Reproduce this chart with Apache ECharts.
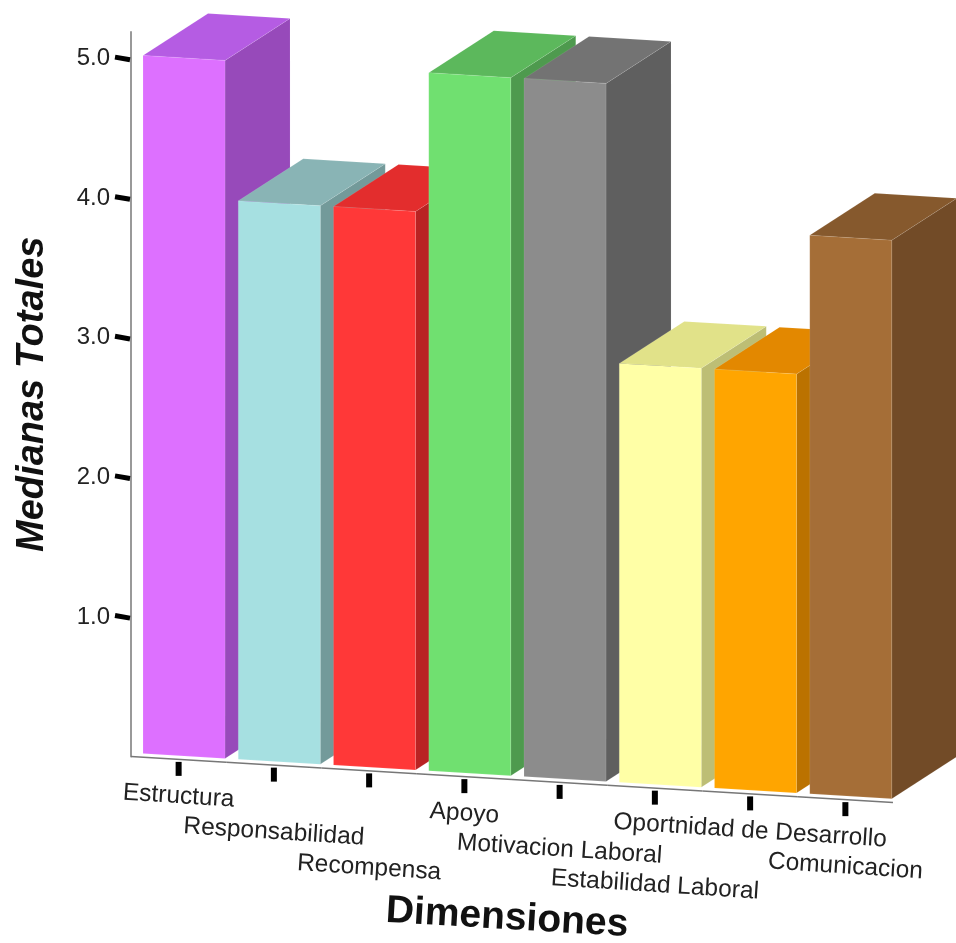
<!DOCTYPE html>
<html>
<head>
<meta charset="utf-8">
<style>
  html, body { margin: 0; padding: 0; background: #fff; }
  #chart { width: 956px; height: 943px; }
</style>
<script src="https://cdn.jsdelivr.net/npm/echarts@6/dist/echarts.min.js"></script>
</head>
<body>
<div id="chart"></div>
<script>
const categories = ['Estructura', 'Responsabilidad', 'Recompensa', 'Apoyo', 'Motivacion Laboral', 'Estabilidad Laboral', 'Oportnidad de Desarrollo', 'Comunicacion'];
const medians = [5, 4, 4, 5, 5, 3, 3, 4];
const yTickValues = [1, 2, 3, 4, 5];

const frontColors = ['#DD70FF', '#A6E0E1', '#FF3838', '#70E070', '#8C8C8C', '#FFFFA6', '#FFA500', '#A56E37'];
const topColors = ['#B55CE3', '#89B4B5', '#E32D2D', '#5CB85C', '#737373', '#E1E289', '#E38800', '#86592D'];
const sideColors = ['#974ABA', '#739A9A', '#B92323', '#4E9A4E', '#5F5F5F', '#BDBE75', '#BB7200', '#724B27'];

const fontFamily = '"Liberation Sans", Arial, sans-serif';
const shearSlope = 0.0604;   // the floor of the fake 3D box runs downhill to the right
const gridLeft = 131;
const depthX = 65;
const depthY = -42;
const labelAngle = -0.065;

function floorDrop(x) {
  return (x - gridLeft) * shearSlope;
}

function renderBar(params, api) {
  const index = api.value(0);
  const top = api.coord([index, api.value(1)]);
  const bottom = api.coord([index, 0]);
  const x0 = top[0] - 35.6;
  const x1 = top[0] + 46.4;
  const gap = -3.8;

  const tl = [x0, top[1] + floorDrop(x0) + gap];
  const tr = [x1, top[1] + floorDrop(x1) + gap];
  const bl = [x0, bottom[1] + floorDrop(x0) + gap];
  const br = [x1, bottom[1] + floorDrop(x1) + gap];
  const back = (p) => [p[0] + depthX, p[1] + depthY];
  const edge = { stroke: 'rgba(255,255,255,0.15)', lineWidth: 0.6 };

  return {
    type: 'group',
    children: [
      {
        type: 'polygon',
        shape: { points: [tr, back(tr), back(br), br] },
        style: Object.assign({ fill: sideColors[index] }, edge)
      },
      {
        type: 'polygon',
        shape: { points: [tl, back(tl), back(tr), tr] },
        style: Object.assign({ fill: topColors[index] }, edge)
      },
      {
        type: 'polygon',
        shape: { points: [tl, tr, br, bl] },
        style: Object.assign({ fill: frontColors[index] }, edge)
      }
    ]
  };
}

// floor line, tick and staggered label for one category
function renderCategory(params, api) {
  const index = api.value(0);
  const point = api.coord([index, 0]);
  const slot = api.size([1, 0])[0];
  const x = point[0];
  const y = point[1] + floorDrop(x);
  const left = x - slot / 2;
  const right = x + slot / 2;
  const labelDrop = 37 + (index % 3) * 30;

  return {
    type: 'group',
    children: [
      {
        type: 'line',
        shape: {
          x1: left,
          y1: point[1] + floorDrop(left),
          x2: right,
          y2: point[1] + floorDrop(right)
        },
        style: { stroke: '#777', lineWidth: 1.5 }
      },
      {
        type: 'rect',
        shape: { x: x - 3, y: y + 2.5, width: 6, height: 14 },
        style: { fill: '#000' }
      },
      {
        type: 'text',
        x: x,
        y: y + labelDrop,
        rotation: labelAngle,
        style: {
          text: categories[index],
          fill: '#222',
          font: '24.5px ' + fontFamily,
          textAlign: 'center',
          textVerticalAlign: 'middle'
        }
      }
    ]
  };
}

function renderYTick(params, api) {
  const point = api.coord([0, api.value(1)]);
  const axisX = params.coordSys.x;
  return {
    type: 'line',
    shape: { x1: axisX - 16, y1: point[1] - 1.4, x2: axisX - 1, y2: point[1] + 1.2 },
    style: { stroke: '#000', lineWidth: 5 }
  };
}

const option = {
  animation: false,
  backgroundColor: '#fff',
  grid: { left: gridLeft, right: 63, top: 32, height: 724.5, outerBoundsMode: 'none' },
  xAxis: {
    type: 'category',
    data: categories,
    name: 'Dimensiones',
    nameLocation: 'middle',
    nameGap: 162,
    nameRotate: -3.4,
    nameTextStyle: {
      color: '#111',
      fontSize: 39,
      fontWeight: 'bold',
      fontFamily: fontFamily,
      align: 'center',
      verticalAlign: 'middle',
      padding: [0, 10, 0, 0]
    },
    axisLine: { show: false },
    axisTick: { show: false },
    axisLabel: { show: false }
  },
  yAxis: {
    type: 'value',
    min: 0,
    max: 5.19,
    interval: 1,
    name: 'Medianas Totales',
    nameLocation: 'middle',
    nameGap: 79,
    nameRotate: 90,
    nameTextStyle: { color: '#111', fontSize: 38, fontWeight: 'bold', fontStyle: 'italic', fontFamily: fontFamily },
    axisLine: { show: true, lineStyle: { color: '#999', width: 2 } },
    axisTick: { show: false },
    splitLine: { show: false },
    axisLabel: {
      margin: 21,
      color: '#222',
      fontSize: 24,
      fontFamily: fontFamily,
      customValues: yTickValues,
      formatter: (value) => value.toFixed(1)
    }
  },
  series: [
    {
      type: 'custom',
      name: 'Medianas',
      renderItem: renderBar,
      encode: { x: 0, y: 1 },
      data: medians.map((value, index) => [index, value])
    },
    {
      type: 'custom',
      name: 'Categorias',
      renderItem: renderCategory,
      encode: { x: 0 },
      data: categories.map((name, index) => [index])
    },
    {
      type: 'custom',
      name: 'Marcas',
      renderItem: renderYTick,
      encode: { y: 1 },
      data: yTickValues.map((value) => [0, value])
    }
  ]
};

const chartInstance = echarts.init(document.getElementById('chart'), null, { renderer: 'canvas' });
chartInstance.setOption(option);
</script>
</body>
</html>
